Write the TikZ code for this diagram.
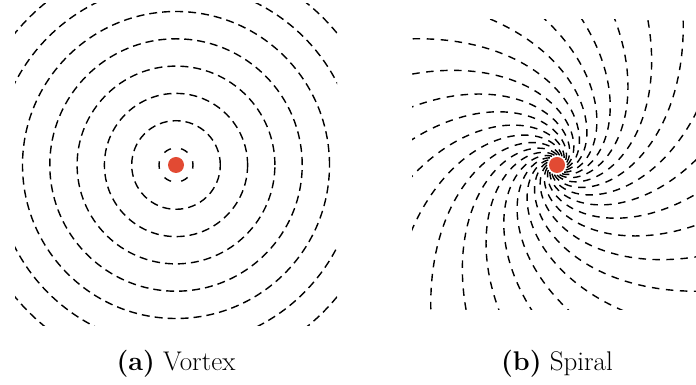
\documentclass[tikz,border=0pt]{standalone}
\definecolor{dotred}{HTML}{E24A33}
\tikzset{
  circ/.style={line width=1.4pt, dash pattern=on 8pt off 5pt},
  spir/.style={line width=1.4pt, dash pattern=on 7.5pt off 6.5pt},
  captext/.style={anchor=base, font=\fontsize{27}{32}\selectfont}
}
\begin{document}
\begin{tikzpicture}[x=1pt,y=1pt]
\useasboundingbox (0,0) rectangle (696,385);
\coordinate (cv) at (176,220);
\coordinate (cs) at (557,220);
% Vortex
\begin{scope}
  \clip (15,59) rectangle (337,381);
  \draw[circ, dash pattern=on 7.5pt off 10.3pt, dash phase=3.75pt] (cv) circle[radius=17];
  \foreach \k in {1,...,7} \draw[circ] (cv) circle[radius={17+27.3*\k}];
\end{scope}
\fill[dotred] (cv) circle[radius=8];
% Spiral
\begin{scope}
  \clip (412,75) rectangle (702,365);
  \foreach \i in {0,...,23}
    \draw[spir] plot[domain=0:2.9, samples=120, variable=\t]
      ({557+10*exp(1.1*\t)*cos(\i*15+deg(\t))},{220+10*exp(1.1*\t)*sin(\i*15+deg(\t))});
\end{scope}
\fill[dotred] (cs) circle[radius=8];
% captions
\node[captext] (capa) at (176,14) {\textbf{(a)} Vortex};
\node[captext] (capb) at (557,14) {\textbf{(b)} Spiral};
\end{tikzpicture}
\end{document}
